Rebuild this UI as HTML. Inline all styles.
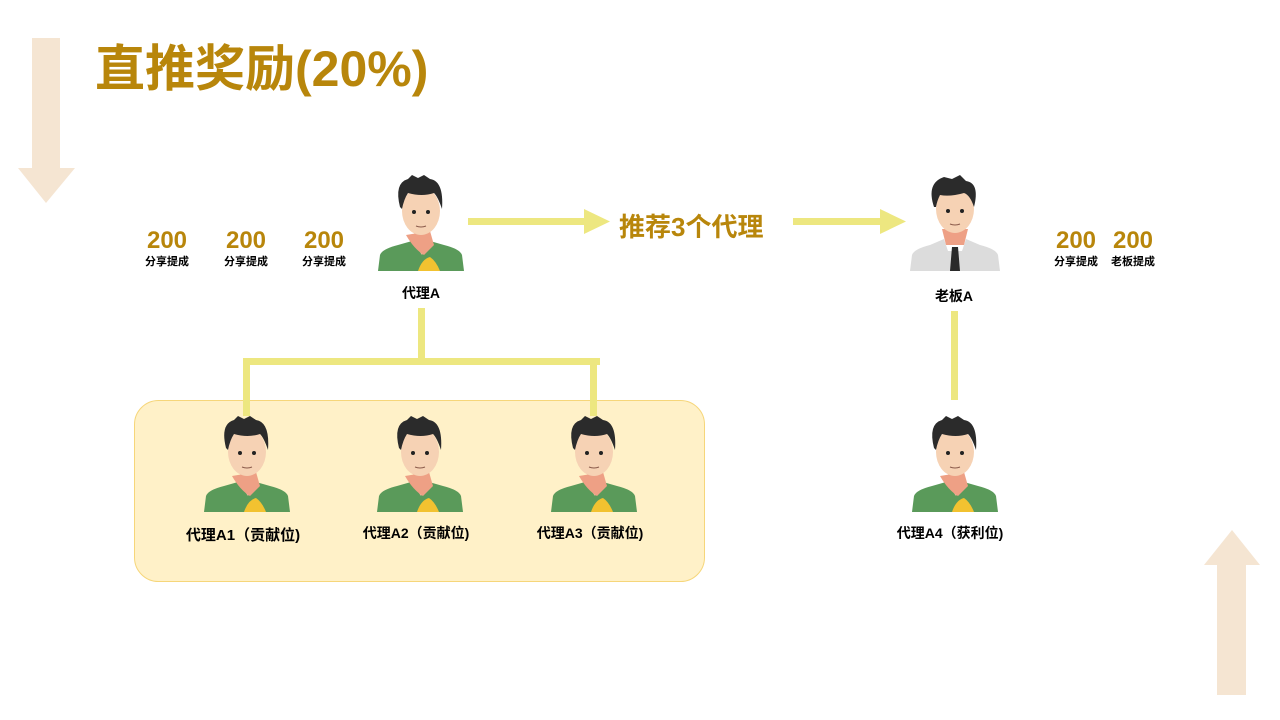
<!DOCTYPE html>
<html><head><meta charset="utf-8"><style>
body{margin:0;width:1280px;height:720px;background:#fff;overflow:hidden;position:relative;font-family:"Liberation Sans","Noto Sans CJK SC",sans-serif}
.t{position:absolute;font-weight:bold;white-space:nowrap}
.g{color:#b8860b}
.n{font-size:24px;line-height:24px;text-align:center;width:80px}
.s{font-size:11px;line-height:12px;text-align:center;width:80px;color:#000}
.l{font-size:14px;color:#000;text-align:center;width:200px}
</style></head><body>
<svg width="1280" height="720" style="position:absolute;left:0;top:0">
<defs>
<g id="boy">
<path d="M0 96 L2 80 Q4 74 20 70 L34 66 L52 66 L66 70 Q82 74 84 80 L86 96 Z" fill="#5a9a5a"/>
<path d="M34 66 L52 66 L44 80 Z" fill="#f4b8a0"/>
<path d="M28 60 Q36 74 46 80 L56 70 L52 56 Z" fill="#eea085"/>
<path d="M40 96 Q44 84 52 82 Q58 86 62 96 Z" fill="#f2c230"/>
<ellipse cx="43" cy="36" rx="19" ry="24" fill="#f6d2b4"/>
<path d="M22 32 Q16 8 30 4 L34 0 L40 3 L46 0 L52 4 Q66 6 64 34 Q60 22 56 18 Q44 22 30 18 Q26 24 24 34 Z" fill="#2b2b2b"/>
<circle cx="36" cy="37" r="2" fill="#222"/><circle cx="50" cy="37" r="2" fill="#222"/>
<path d="M38 51 Q43 53 48 51" stroke="#8a5a4a" stroke-width="1" fill="none"/>
</g>
<g id="boss">
<path d="M0 96 L2 80 Q4 74 20 70 L34 64 L56 64 L70 70 Q86 74 88 80 L90 96 Z" fill="#dcdcdc"/>
<path d="M34 64 L56 64 L52 76 L38 76 Z" fill="#fff"/>
<path d="M42 72 L48 72 L50 96 L40 96 Z" fill="#2a2a2a"/>
<path d="M32 54 L58 54 L54 70 L36 70 Z" fill="#eea085"/>
<ellipse cx="45" cy="34" rx="19" ry="24" fill="#f6d2b4"/>
<path d="M24 32 Q16 8 34 2 L42 4 L50 0 L56 6 Q70 8 64 32 Q60 20 54 18 Q40 22 30 20 Q27 26 26 32 Z" fill="#2b2b2b"/>
<circle cx="38" cy="36" r="2" fill="#222"/><circle cx="52" cy="36" r="2" fill="#222"/>
<path d="M40 49 Q45 51 50 49" stroke="#8a5a4a" stroke-width="1" fill="none"/>
</g>
</defs>
<path d="M32 38 H60 V168 H75 L46 203 L18 168 H32 Z" fill="#f5e5d2"/>
<path d="M1217 695 H1246 V565 H1260 L1232 530 L1204 565 H1217 Z" fill="#f5e5d2"/>
<rect x="134.5" y="400.5" width="570" height="181" rx="24" fill="#fff1c8" stroke="#f6d67a"/>
<g fill="#ede780">
<rect x="468" y="218" width="118" height="7"/><path d="M584 209 L610 221.5 L584 234 Z"/>
<rect x="793" y="218" width="90" height="7"/><path d="M880 209 L906 221.5 L880 234 Z"/>
<rect x="418" y="308" width="7" height="54"/>
<rect x="243" y="358" width="357" height="7"/>
<rect x="243" y="358" width="7" height="58"/>
<rect x="590" y="358" width="7" height="58"/>
<rect x="951" y="311" width="7" height="89"/>
</g>
<use href="#boy" x="378" y="175"/>
<use href="#boss" x="910" y="175"/>
<use href="#boy" x="204" y="416"/>
<use href="#boy" x="377" y="416"/>
<use href="#boy" x="551" y="416"/>
<use href="#boy" x="912" y="416"/>
</svg>
<div class="t g" style="left:95px;top:39px;font-size:50px;line-height:60px">直推奖励(20%)</div>
<div class="t g" style="left:619px;top:211px;font-size:26px;line-height:32px">推荐3个代理</div>
<div class="t g n" style="left:127px;top:229px">200</div><div class="t s" style="left:127px;top:256px">分享提成</div>
<div class="t g n" style="left:206px;top:229px">200</div><div class="t s" style="left:206px;top:256px">分享提成</div>
<div class="t g n" style="left:284px;top:229px">200</div><div class="t s" style="left:284px;top:256px">分享提成</div>
<div class="t g n" style="left:1036px;top:229px">200</div><div class="t s" style="left:1036px;top:256px">分享提成</div>
<div class="t g n" style="left:1093px;top:229px">200</div><div class="t s" style="left:1093px;top:256px">老板提成</div>
<div class="t l" style="left:321px;top:283px">代理A</div>
<div class="t l" style="left:854px;top:286px">老板A</div>
<div class="t l" style="left:143px;top:524px;font-size:15px">代理A1（贡献位)</div>
<div class="t l" style="left:316px;top:523px">代理A2（贡献位)</div>
<div class="t l" style="left:490px;top:523px">代理A3（贡献位)</div>
<div class="t l" style="left:850px;top:523px">代理A4（获利位)</div>
</body></html>
